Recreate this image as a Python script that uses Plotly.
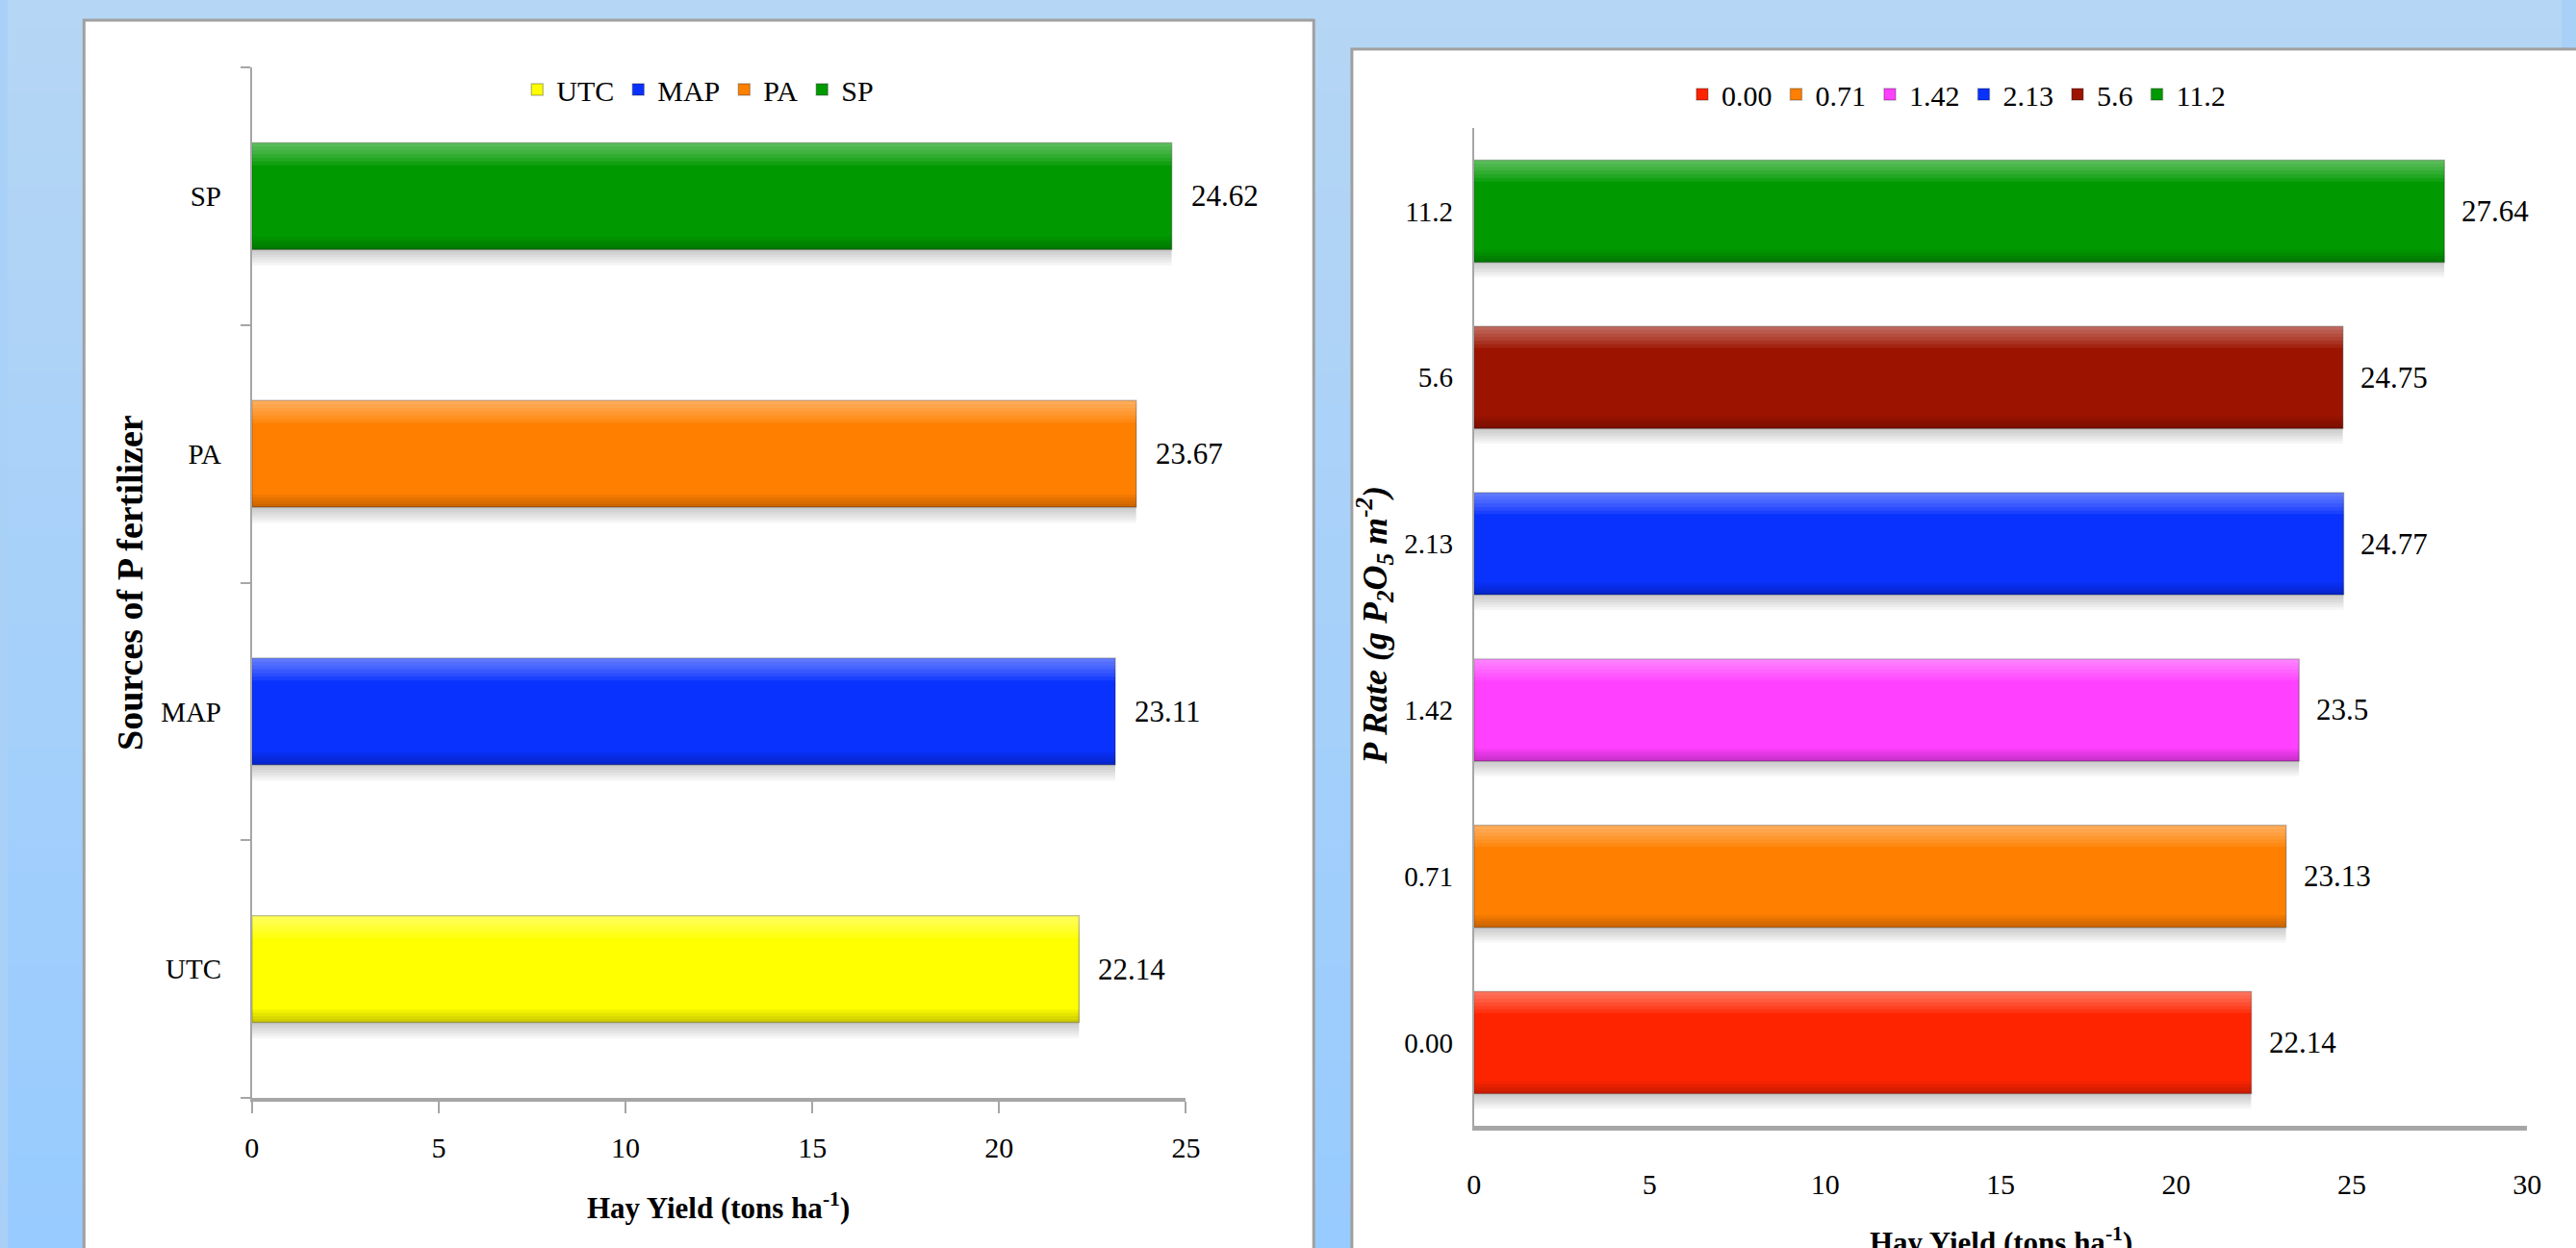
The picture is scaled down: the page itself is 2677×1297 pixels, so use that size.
import plotly.graph_objects as go

# ---- data -------------------------------------------------------------
sources = ["UTC", "MAP", "PA", "SP"]
source_yield = [22.14, 23.11, 23.67, 24.62]
source_colors = ["#FFFF00", "#0A32FF", "#FF8000", "#009A00"]

rates = ["0.00", "0.71", "1.42", "2.13", "5.6", "11.2"]
rate_yield = [22.14, 23.13, 23.5, 24.77, 24.75, 27.64]
rate_colors = ["#FF2400", "#FF8000", "#FF40FF", "#0A32FF", "#9C1400", "#009A00"]

left_ticks = [0, 5, 10, 15, 20, 25]
right_ticks = [0, 5, 10, 15, 20, 25, 30]

W, H = 2677, 1297
FONT = "Liberation Serif"
AXIS_GREY = "#A6A6A6"


def px_x(p):
    return p / W


def px_y(p):
    return 1 - p / H


fig = go.Figure()


def add_glossy_bars(cats, vals, colors, xa, ya, width, legend):
    """Bars with a soft drop shadow, top highlight and darker lower edge."""
    for c, v, col in zip(cats, vals, colors):
        common = dict(x=[v], y=[c], orientation="h", xaxis=xa, yaxis=ya,
                      showlegend=False, hoverinfo="skip")
        # soft drop shadow under the bar
        for k in range(6):
            shift = 0.025 * (6 - k)
            fig.add_trace(go.Bar(**common, width=width,
                                 offset=-width / 2 - shift * width,
                                 marker=dict(color="rgba(0,0,0,0.035)",
                                             line=dict(width=0))))
        # main bar
        fig.add_trace(go.Bar(x=[v], y=[c], orientation="h", xaxis=xa, yaxis=ya,
                             name=c, legend=legend, width=width, offset=-width / 2,
                             marker=dict(color=col,
                                         line=dict(color="rgba(0,0,0,0.25)", width=1.5)),
                             hoverinfo="x+y"))
        # darker lower edge, fading upwards
        for k in range(4):
            h = 0.03 * (4 - k)
            fig.add_trace(go.Bar(**common, width=h * width, offset=-width / 2,
                                 marker=dict(color="rgba(0,0,0,0.05)",
                                             line=dict(width=0))))
        # top highlight, fading downwards
        for k in range(6):
            h = 0.035 * (6 - k)
            fig.add_trace(go.Bar(**common, width=h * width,
                                 offset=width / 2 - h * width,
                                 marker=dict(color="rgba(255,255,255,0.07)",
                                             line=dict(width=0))))


add_glossy_bars(sources, source_yield, source_colors, "x", "y", 0.414, "legend")
add_glossy_bars(rates, rate_yield, rate_colors, "x2", "y2", 0.613, "legend2")

# ---- value labels (placed by category index) --------------------------
annotations = []
for i, v in enumerate(source_yield):
    annotations.append(dict(x=v, y=i, xref="x", yref="y", text=f"{v}",
                            showarrow=False, xanchor="left", xshift=18,
                            font=dict(family=FONT, size=31, color="black")))
for i, v in enumerate(rate_yield):
    annotations.append(dict(x=v, y=i, xref="x2", yref="y2", text=f"{v}",
                            showarrow=False, xanchor="left", xshift=16,
                            font=dict(family=FONT, size=31, color="black")))

# ---- axis titles ------------------------------------------------------
title_font = dict(family=FONT, size=31, color="black")
annotations += [
    dict(x=px_x(745), y=px_y(1253), xref="paper", yref="paper",
         text="<b>Hay Yield (tons ha<sup>-1</sup>)</b>", showarrow=False,
         xanchor="center", yanchor="middle", font=title_font),
    dict(x=px_x(2089), y=px_y(1268), xref="paper", yref="paper",
         text="<b>Hay Yield (tons ha<sup>-1</sup>)</b>", showarrow=False,
         xanchor="center", yanchor="top", font=title_font),
    dict(x=px_x(128), y=px_y(605), xref="paper", yref="paper",
         text="<b>Sources of P fertilizer</b>", showarrow=False, textangle=-90,
         xanchor="center", yanchor="middle",
         font=dict(family=FONT, size=38, color="black")),
    dict(x=px_x(1433), y=px_y(650), xref="paper", yref="paper",
         text="<b><i>P Rate (g P<sub>2</sub>O<sub>5</sub> m<sup>-2</sup>)</i></b>",
         showarrow=False, textangle=-90, xanchor="center", yanchor="middle",
         font=dict(family=FONT, size=36, color="black")),
]

# ---- background: soft blue gradient and two white panels --------------
shapes = []
top_rgb = (181, 214, 244)
bot_rgb = (152, 203, 255)
n_bands = 40
for i in range(n_bands):
    t = i / (n_bands - 1)
    r, g, b = (round(top_rgb[k] + (bot_rgb[k] - top_rgb[k]) * t) for k in range(3))
    shapes.append(dict(type="rect", xref="paper", yref="paper", layer="below",
                       x0=0, x1=1, y0=1 - (i + 1) / n_bands, y1=1 - i / n_bands + 0.001,
                       fillcolor=f"rgb({r},{g},{b})", line=dict(width=0)))
shapes.append(dict(type="rect", xref="paper", yref="paper", layer="below",
                   x0=px_x(80), x1=px_x(1369), y0=-0.05, y1=px_y(21),
                   fillcolor="white", line=dict(color="#A0A0A0", width=3)))
shapes.append(dict(type="rect", xref="paper", yref="paper", layer="below",
                   x0=px_x(1409), x1=1.05, y0=-0.05, y1=px_y(51),
                   fillcolor="white", line=dict(color="#A0A0A0", width=3)))

tick_font = dict(family=FONT, size=30, color="black")
cat_font = dict(family=FONT, size=29, color="black")

fig.update_layout(
    width=W, height=H,
    margin=dict(l=0, r=0, t=0, b=0),
    paper_bgcolor="#A9D1F8",
    plot_bgcolor="rgba(0,0,0,0)",
    barmode="overlay",
    shapes=shapes,
    annotations=annotations,
    xaxis=dict(domain=[px_x(256), px_x(1235)], range=[0, 25], tickvals=left_ticks,
               anchor="y", showgrid=False, zeroline=False,
               showline=True, linecolor=AXIS_GREY, linewidth=4,
               ticks="outside", ticklen=12, tickwidth=2, tickcolor=AXIS_GREY,
               ticklabelstandoff=10, tickfont=tick_font, fixedrange=True),
    yaxis=dict(domain=[px_y(1141), px_y(70)], type="category",
               categoryorder="array", categoryarray=sources,
               range=[-0.5, len(sources) - 0.5],
               anchor="x", showgrid=False, zeroline=False,
               showline=True, linecolor=AXIS_GREY, linewidth=2,
               ticks="outside", tickson="boundaries", ticklen=10, tickwidth=2,
               tickcolor=AXIS_GREY, ticklabelstandoff=24, tickfont=cat_font,
               fixedrange=True),
    xaxis2=dict(domain=[px_x(1537), px_x(2641)], range=[0, 30], tickvals=right_ticks,
                anchor="y2", showgrid=False, zeroline=False,
                showline=True, linecolor=AXIS_GREY, linewidth=5,
                ticks="", ticklabelstandoff=30, tickfont=tick_font, fixedrange=True),
    yaxis2=dict(domain=[px_y(1170), px_y(133)], type="category",
                categoryorder="array", categoryarray=rates,
                range=[-0.5, len(rates) - 0.5],
                anchor="x2", showgrid=False, zeroline=False,
                showline=True, linecolor=AXIS_GREY, linewidth=2,
                ticks="", ticklabelstandoff=14, tickfont=cat_font, fixedrange=True),
    legend=dict(orientation="h", x=px_x(724), y=px_y(93), xanchor="center",
                yanchor="middle", bgcolor="rgba(0,0,0,0)",
                font=dict(family=FONT, size=30, color="black"),
                itemclick=False, itemdoubleclick=False),
    legend2=dict(orientation="h", x=px_x(2043), y=px_y(98), xanchor="center",
                 yanchor="middle", bgcolor="rgba(0,0,0,0)",
                 font=dict(family=FONT, size=30, color="black"),
                 itemclick=False, itemdoubleclick=False),
)

fig.write_html("out.html")
